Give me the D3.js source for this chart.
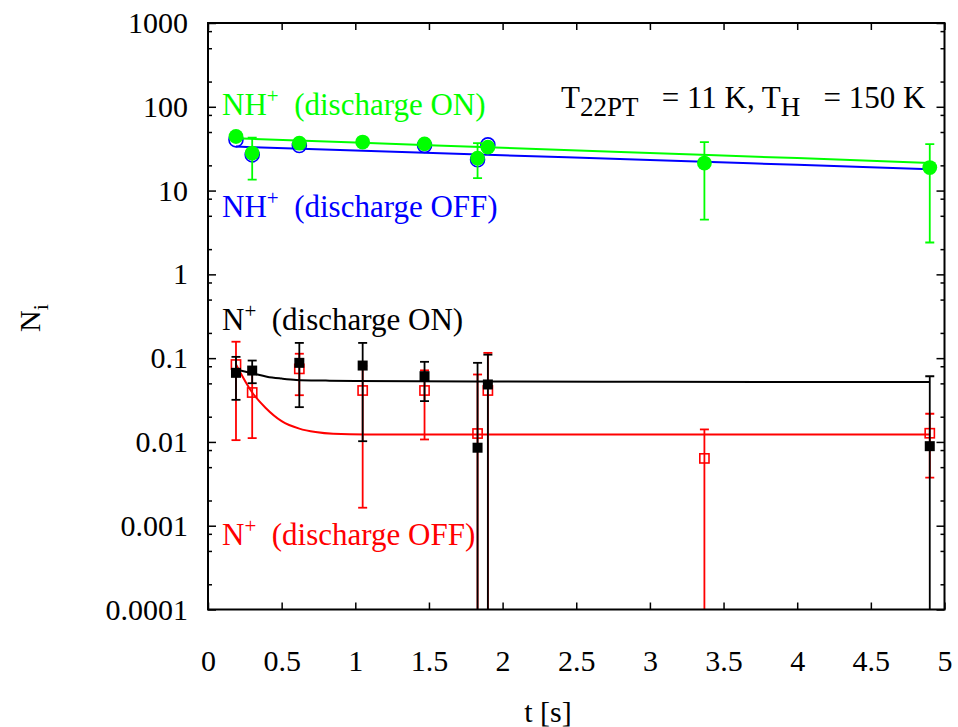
<!DOCTYPE html>
<html>
<head>
<meta charset="utf-8">
<script src="https://cdn.jsdelivr.net/npm/d3@7"></script>
<style>
  body { margin: 0; background: #fff; }
  svg { display: block; font-family: "Liberation Serif", "Times New Roman", serif; }
</style>
</head>
<body>
<div id="chart"></div>
<script>
var svgWidth = 958;
var svgHeight = 727;

// x ticks / y ticks
var xTicks = [0, 0.5, 1, 1.5, 2, 2.5, 3, 3.5, 4, 4.5, 5];
var xTickLabels = ["0", "0.5", "1", "1.5", "2", "2.5", "3", "3.5", "4", "4.5", "5"];
var yTicks = [1e-4, 1e-3, 1e-2, 1e-1, 1, 10, 100, 1000];
var yTickLabels = ["0.0001", "0.001", "0.01", "0.1", "1", "10", "100", "1000"];
var yMinorSteps = [2, 5, 8];

// NH+ discharge ON (green, filled circles)
var tNHon = [0.19, 0.3, 0.62, 1.05, 1.47, 1.83, 1.9, 3.37, 4.9];
var nhOn = [44.2, 28.0, 36.8, 37.9, 36.1, 24.4, 33.0, 21.3, 18.8];
var nhOnLo = [null, 13.5, null, null, null, 14.1, null, 4.5, 2.4];
var nhOnHi = [null, 42.9, null, null, null, 36.8, null, 37.8, 35.8];

// NH+ discharge OFF (blue, open circles)
var tNHoff = [0.19, 0.3, 0.62, 1.47, 1.83, 1.9];
var nhOff = [40.3, 26.7, 34.5, 34.5, 23.3, 35.1];

// N+ discharge ON (black, filled squares); 1e-6 = bar runs off the axis
var tNon = [0.19, 0.3, 0.62, 1.05, 1.47, 1.83, 1.9, 4.9];
var nOn = [0.0668, 0.0711, 0.0879, 0.0816, 0.0609, 0.00853, 0.0485, 0.0089];
var nOnLo = [0.0318, 0.0502, 0.026, 0.0102, 0.0307, 1e-6, 1e-6, 1e-6];
var nOnHi = [0.1036, 0.0936, 0.152, 0.152, 0.0904, 0.0879, 0.110, 0.0608];

// N+ discharge OFF (red, open squares)
var tNoff = [0.19, 0.3, 0.62, 1.05, 1.47, 1.83, 1.9, 3.37, 4.9];
var nOff = [0.0839, 0.0389, 0.0745, 0.0411, 0.0411, 0.0126, 0.0411, 0.00636, 0.0127];
var nOffLo = [0.0105, 0.0111, 0.0361, 0.00164, 0.0107, 1e-6, 1e-6, 1e-6, 0.00374];
var nOffHi = [0.157, 0.0667, 0.1129, 0.0806, 0.0715, 0.0638, 0.1156, 0.0141, 0.0217];

// fit curves
var tFitNH = [0.19, 1, 2, 3, 4, 4.9];
var fitNHon = [42.0, 37.5, 32.4, 28.1, 24.4, 21.4];
var fitNHoff = [33.5, 30.1, 26.4, 23.2, 20.3, 18.0];
var tFitNon = [0.19, 0.3, 0.4, 0.5, 0.6, 0.8, 1.0, 2, 3, 4, 4.9];
var fitNon = [0.073, 0.066, 0.060, 0.057, 0.055, 0.054, 0.0533, 0.0525, 0.0522, 0.052, 0.052];
var tFitNoff = [0.19, 0.3, 0.39, 0.5, 0.62, 0.73, 0.85, 1.07, 1.5, 2, 3, 4, 4.9];
var fitNoff = [0.084, 0.0389, 0.0256, 0.0177, 0.0144, 0.0131, 0.0125, 0.0123, 0.0123, 0.0123, 0.0123, 0.0123, 0.0123];

var margin = { top: 23, right: 13.5, bottom: 117.5, left: 208 };
var chartWidth = svgWidth - margin.left - margin.right;
var chartHeight = svgHeight - margin.top - margin.bottom;

var svg = d3.select("#chart")
  .append("svg")
  .attr("width", svgWidth)
  .attr("height", svgHeight);

var chartGroup = svg.append("g")
  .attr("transform", `translate(${margin.left}, ${margin.top})`);

var xScale = d3.scaleLinear().domain([0, 5]).range([0, chartWidth]);
var yScale = d3.scaleLog().domain([1e-4, 1000]).range([chartHeight, 0]);

svg.append("defs").append("clipPath").attr("id", "clip")
  .append("rect").attr("width", chartWidth).attr("height", chartHeight);

var yMinor = [];
yTicks.slice(0, -1).forEach(function(d) {
  yMinorSteps.forEach(function(s) { yMinor.push(d * s); });
});

// axes (ticks pointing inward, mirrored)
function styleAxis(g) {
  g.select(".domain").remove();
  g.selectAll("line").attr("stroke", "#000").attr("stroke-width", 1.5);
  g.selectAll("text").attr("font-size", 30).attr("fill", "#000")
    .attr("font-family", "'Liberation Serif', serif");
}

chartGroup.append("g")
  .attr("transform", `translate(0, ${chartHeight})`)
  .call(d3.axisBottom(xScale).tickValues(xTicks).tickSize(-7).tickPadding(40)
    .tickFormat(function(d, i) { return xTickLabels[i]; }))
  .call(styleAxis);
chartGroup.append("g")
  .call(d3.axisTop(xScale).tickValues(xTicks).tickSize(-7).tickFormat(""))
  .call(styleAxis);

chartGroup.append("g")
  .call(d3.axisLeft(yScale).tickValues(yTicks).tickSize(-8).tickPadding(20)
    .tickFormat(function(d, i) { return yTickLabels[i]; }))
  .call(styleAxis);
chartGroup.append("g")
  .call(d3.axisLeft(yScale).tickValues(yMinor).tickSize(-4).tickFormat(""))
  .call(styleAxis);
chartGroup.append("g")
  .attr("transform", `translate(${chartWidth}, 0)`)
  .call(d3.axisRight(yScale).tickValues(yTicks).tickSize(-8).tickFormat(""))
  .call(styleAxis);
chartGroup.append("g")
  .attr("transform", `translate(${chartWidth}, 0)`)
  .call(d3.axisRight(yScale).tickValues(yMinor).tickSize(-4).tickFormat(""))
  .call(styleAxis);

var plot = chartGroup.append("g").attr("clip-path", "url(#clip)");

function zip(ts, vs, lo, hi) {
  return ts.map(function(t, i) {
    return { t: t, v: vs[i], lo: lo ? lo[i] : null, hi: hi ? hi[i] : null };
  });
}

var line = d3.line()
  .x(function(d) { return xScale(d.t); })
  .y(function(d) { return yScale(d.v); })
  .curve(d3.curveMonotoneX);

function drawFit(ts, vs, color) {
  plot.append("path")
    .datum(zip(ts, vs))
    .attr("d", line)
    .attr("fill", "none")
    .attr("stroke", color)
    .attr("stroke-width", 2);
}

function drawErrors(data, color) {
  var g = plot.append("g").attr("stroke", color).attr("stroke-width", 1.8);
  var bars = data.filter(function(d) { return d.lo != null; });
  g.selectAll("line.v").data(bars).enter().append("line")
    .attr("x1", d => xScale(d.t)).attr("x2", d => xScale(d.t))
    .attr("y1", d => yScale(d.lo)).attr("y2", d => yScale(d.hi));
  g.selectAll("line.hi").data(bars).enter().append("line")
    .attr("x1", d => xScale(d.t) - 4.5).attr("x2", d => xScale(d.t) + 4.5)
    .attr("y1", d => yScale(d.hi)).attr("y2", d => yScale(d.hi));
  g.selectAll("line.lo").data(bars).enter().append("line")
    .attr("x1", d => xScale(d.t) - 4.5).attr("x2", d => xScale(d.t) + 4.5)
    .attr("y1", d => yScale(d.lo)).attr("y2", d => yScale(d.lo));
}

var dNHon = zip(tNHon, nhOn, nhOnLo, nhOnHi);
var dNHoff = zip(tNHoff, nhOff);
var dNon = zip(tNon, nOn, nOnLo, nOnHi);
var dNoff = zip(tNoff, nOff, nOffLo, nOffHi);

// NH+ OFF (blue)
drawFit(tFitNH, fitNHoff, "#0000ff");
plot.append("g").selectAll("circle").data(dNHoff).enter().append("circle")
  .attr("cx", d => xScale(d.t)).attr("cy", d => yScale(d.v)).attr("r", 7)
  .attr("fill", "none").attr("stroke", "#0000ff").attr("stroke-width", 1.6);

// NH+ ON (green)
drawFit(tFitNH, fitNHon, "#00ff00");
drawErrors(dNHon, "#00ff00");
plot.append("g").selectAll("circle").data(dNHon).enter().append("circle")
  .attr("cx", d => xScale(d.t)).attr("cy", d => yScale(d.v)).attr("r", 7.4)
  .attr("fill", "#00ff00");

// N+ OFF (red)
drawFit(tFitNoff, fitNoff, "#ff0000");
drawErrors(dNoff, "#ff0000");
plot.append("g").selectAll("rect").data(dNoff).enter().append("rect")
  .attr("x", d => xScale(d.t) - 4.6).attr("y", d => yScale(d.v) - 4.6)
  .attr("width", 9.2).attr("height", 9.2)
  .attr("fill", "none").attr("stroke", "#ff0000").attr("stroke-width", 1.6);

// N+ ON (black)
drawFit(tFitNon, fitNon, "#000000");
drawErrors(dNon, "#000000");
plot.append("g").selectAll("rect").data(dNon).enter().append("rect")
  .attr("x", d => xScale(d.t) - 5).attr("y", d => yScale(d.v) - 5)
  .attr("width", 10).attr("height", 10)
  .attr("fill", "#000");

// frame
chartGroup.append("rect")
  .attr("width", chartWidth).attr("height", chartHeight)
  .attr("fill", "none").attr("stroke", "#000").attr("stroke-width", 2);

// labels
function label(x, y, color, base, sup, rest) {
  var t = svg.append("text").attr("x", x).attr("y", y)
    .attr("fill", color).attr("font-size", 31);
  t.append("tspan").text(base);
  t.append("tspan").attr("dy", -12).attr("font-size", 21).text(sup);
  t.append("tspan").attr("dy", 12).text("\u00a0 " + rest);
}
label(222, 115, "#00ff00", "NH", "+", "(discharge ON)");
label(222, 217, "#0000ff", "NH", "+", "(discharge OFF)");
label(222, 330, "#000000", "N", "+", "(discharge ON)");
label(222, 545, "#ff0000", "N", "+", "(discharge OFF)");

var tl = svg.append("text").attr("x", 561).attr("y", 108)
  .attr("font-size", 31).attr("fill", "#000");
tl.append("tspan").text("T");
tl.append("tspan").attr("dy", 8).attr("font-size", 27).text("22PT");
tl.append("tspan").attr("dy", -8).text("\u00a0\u00a0 = 11 K, T");
tl.append("tspan").attr("dy", 8).attr("font-size", 27).text("H");
tl.append("tspan").attr("dy", -8).text("\u00a0\u00a0 = 150 K");

svg.append("text")
  .attr("x", 548).attr("y", 722)
  .attr("text-anchor", "middle")
  .attr("font-size", 30)
  .text("t [s]");

var yl = svg.append("text")
  .attr("transform", "translate(40, 318) rotate(-90)")
  .attr("text-anchor", "middle")
  .attr("font-size", 30);
yl.append("tspan").text("N");
yl.append("tspan").attr("dy", 8).attr("font-size", 22).text("i");
</script>
</body>
</html>
